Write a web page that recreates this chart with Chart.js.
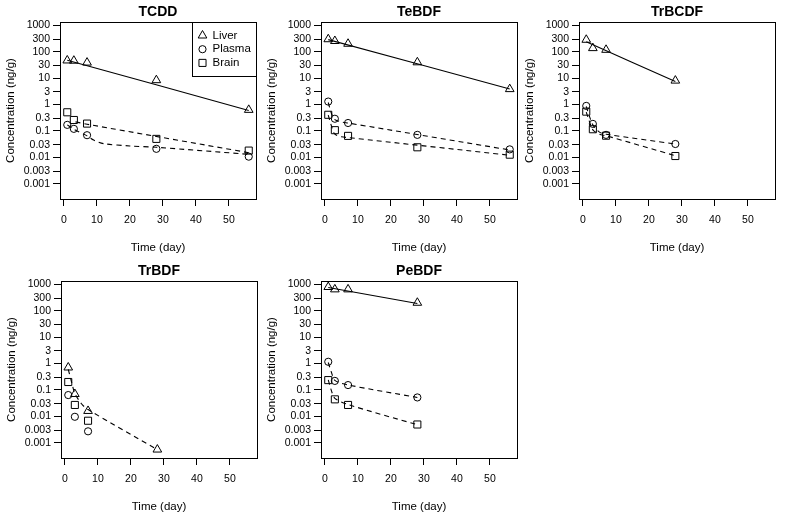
<!DOCTYPE html>
<html>
<head>
<meta charset="utf-8">
<script src="https://cdn.jsdelivr.net/npm/chart.js@4.4.1/dist/chart.umd.min.js"></script>
<style>
  body { margin: 0; background: #fff; width: 785px; height: 517px; position: relative; overflow: hidden; }
  canvas { position: absolute; }
</style>
</head>
<body>
<script>
// sampling days
var days5 = [1, 3, 7, 28, 56];
var days4 = [1, 3, 7, 28];
var days3 = [1, 3, 7];

// axis ticks
var xTicks = [0, 10, 20, 30, 40, 50];
var yTicks = [1000, 300, 100, 30, 10, 3, 1, 0.3, 0.1, 0.03, 0.01, 0.003, 0.001];
var yTickLabels = ['1000', '300', '100', '30', '10', '3', '1', '0.3', '0.1', '0.03', '0.01', '0.003', '0.001'];

// TCDD
var tcddLiver = [47, 46, 39, 8.4, 0.63];
var tcddPlasma = [0.17, 0.12, 0.069, 0.021, 0.0106];
var tcddBrain = [0.51, 0.26, 0.19, 0.05, 0.018];
var tcddLiverFit = [[1, 48], [56, 0.6]];
var tcddPlasmaFit = [[1, 0.17], [3, 0.115], [7, 0.065], [9, 0.045], [12, 0.033], [20, 0.027], [28, 0.024], [56, 0.013]];
var tcddBrainFit = [[3.5, 0.22], [7, 0.18], [56, 0.015]];

// TeBDF
var tebdfLiver = [300, 257, 202, 40, 3.85];
var tebdfPlasma = [1.3, 0.29, 0.2, 0.071, 0.02];
var tebdfBrain = [0.41, 0.107, 0.065, 0.024, 0.0126];
var tebdfLiverFit = [[1, 290], [56, 3.9]];
var tebdfPlasmaFit = [[1, 1.2], [2, 0.45], [3, 0.27], [5, 0.22], [7, 0.2], [56, 0.019]];
var tebdfBrainFit = [[1, 0.4], [2, 0.15], [3, 0.075], [5, 0.06], [7, 0.056], [56, 0.012]];

// TrBCDF
var trbcdfLiver = [286, 138, 119, 8.1];
var trbcdfPlasma = [0.89, 0.185, 0.071, 0.032];
var trbcdfBrain = [0.54, 0.116, 0.066, 0.0112];
var trbcdfLiverFit = [[1, 240], [28, 7.5]];
var trbcdfPlasmaFit = [[1, 0.85], [2, 0.35], [3, 0.17], [5, 0.09], [7, 0.075], [28, 0.032]];
var trbcdfBrainFit = [[1, 0.52], [2, 0.22], [3, 0.11], [5, 0.075], [7, 0.066], [28, 0.0115]];

// TrBDF
var trbdfLiver = [0.71, 0.07, 0.016, 0.00055];
var trbdfPlasma = [0.064, 0.0096, 0.0027];
var trbdfBrain = [0.2, 0.027, 0.0068];
var trbdfLiverFit = [[1, 0.6], [2, 0.2], [3, 0.075], [5, 0.03], [7, 0.018], [28, 0.00055]];

// PeBDF
var pebdfLiver = [800, 650, 650, 202];
var pebdfPlasma = [1.17, 0.22, 0.153, 0.052];
var pebdfBrain = [0.236, 0.044, 0.027, 0.0049];
var pebdfLiverFit = [[1, 760], [28, 190]];
var pebdfPlasmaFit = [[1, 1.1], [2, 0.45], [3, 0.23], [7, 0.155], [28, 0.052]];
var pebdfBrainFit = [[1, 0.24], [2, 0.09], [3, 0.048], [7, 0.028], [28, 0.0048]];

var FONT = "'Liberation Sans', Arial, Helvetica, sans-serif";

var panels = [
  { name: 'TCDD', left: 0, top: 0, days: days5, liver: tcddLiver, plasma: tcddPlasma, brain: tcddBrain,
    fits: [[tcddLiverFit, false], [tcddPlasmaFit, true], [tcddBrainFit, true]], legend: true },
  { name: 'TeBDF', left: 261, top: 0, days: days5, liver: tebdfLiver, plasma: tebdfPlasma, brain: tebdfBrain,
    fits: [[tebdfLiverFit, false], [tebdfPlasmaFit, true], [tebdfBrainFit, true]] },
  { name: 'TrBCDF', left: 519, top: 0, days: days4, liver: trbcdfLiver, plasma: trbcdfPlasma, brain: trbcdfBrain,
    fits: [[trbcdfLiverFit, false], [trbcdfPlasmaFit, true], [trbcdfBrainFit, true]] },
  { name: 'TrBDF', left: 1, top: 259, days: days4, liver: trbdfLiver, plasma: trbdfPlasma, brain: trbdfBrain,
    plasmaDays: days3, fits: [[trbdfLiverFit, true]] },
  { name: 'PeBDF', left: 261, top: 259, days: days4, liver: pebdfLiver, plasma: pebdfPlasma, brain: pebdfBrain,
    fits: [[pebdfLiverFit, false], [pebdfPlasmaFit, true], [pebdfBrainFit, true]] }
];

function toPoints(xs, ys) {
  var out = [];
  for (var i = 0; i < ys.length; i++) out.push({ x: xs[i], y: ys[i] });
  return out;
}

function pairs(arr) {
  return arr.map(function (p) { return { x: p[0], y: p[1] }; });
}

// box round the plot region + panel title
var framePlugin = {
  id: 'rFrame',
  afterDraw: function (chart, args, opts) {
    var a = chart.chartArea;
    var ctx = chart.ctx;
    ctx.save();
    ctx.strokeStyle = '#000';
    ctx.lineWidth = 1;
    ctx.strokeRect(Math.round(a.left) + 0.5, Math.round(a.top) + 0.5,
      Math.round(a.right - a.left), Math.round(a.bottom - a.top));
    ctx.fillStyle = '#000';
    ctx.font = 'bold 14px ' + FONT;
    ctx.textAlign = 'center';
    ctx.textBaseline = 'middle';
    ctx.fillText(opts.title, (a.left + a.right) / 2, 12);
    ctx.restore();
  }
};

var legendPlugin = {
  id: 'rLegend',
  afterDraw: function (chart, args, opts) {
    if (!opts.show) return;
    var a = chart.chartArea;
    var ctx = chart.ctx;
    var w = 64, h = 54;
    var lx = Math.round(a.right) - w + 0.5, ly = Math.round(a.top) + 0.5;
    var items = [['Liver', 'triangle', 5], ['Plasma', 'circle', 3.6], ['Brain', 'rect', 5]];
    ctx.save();
    ctx.strokeStyle = '#000';
    ctx.lineWidth = 1;
    ctx.fillStyle = '#fff';
    ctx.fillRect(lx, ly, w, h);
    ctx.strokeRect(lx, ly, w, h);
    ctx.font = '11.5px ' + FONT;
    ctx.textBaseline = 'middle';
    ctx.textAlign = 'left';
    items.forEach(function (it, i) {
      var y = ly + 13 + i * 13.7;
      ctx.fillStyle = 'rgba(0,0,0,0)';
      ctx.strokeStyle = '#000';
      Chart.helpers.drawPoint(ctx, { pointStyle: it[1], radius: it[2], borderWidth: 1, rotation: 0 }, lx + 10, y);
      ctx.fillStyle = '#000';
      ctx.fillText(it[0], lx + 20, y);
    });
    ctx.restore();
  }
};

panels.forEach(function (p) {
  var cv = document.createElement('canvas');
  cv.width = 262;
  cv.height = 258;
  cv.style.left = p.left + 'px';
  cv.style.top = p.top + 'px';
  document.body.appendChild(cv);

  var dataSets = [];
  p.fits.forEach(function (f) {
    dataSets.push({
      data: pairs(f[0]),
      showLine: true,
      borderColor: '#000',
      borderWidth: 1.1,
      borderDash: f[1] ? [5, 4] : [],
      pointRadius: 0,
      fill: false,
      tension: 0.3
    });
  });
  var marks = [
    [toPoints(p.days, p.liver), 'triangle', 5],
    [toPoints(p.plasmaDays || p.days, p.plasma), 'circle', 3.6],
    [toPoints(p.plasmaDays || p.days, p.brain), 'rect', 5]
  ];
  marks.forEach(function (m) {
    dataSets.push({
      data: m[0],
      showLine: false,
      pointStyle: m[1],
      pointRadius: m[2],
      pointBorderWidth: 1,
      pointBorderColor: '#000',
      pointBackgroundColor: 'rgba(0,0,0,0)'
    });
  });

  new Chart(cv, {
    type: 'scatter',
    data: { datasets: dataSets },
    options: {
      responsive: false,
      animation: false,
      devicePixelRatio: 1,
      layout: { padding: { top: 22, right: 5, bottom: 0, left: 0 } },
      plugins: {
        legend: { display: false },
        tooltip: { enabled: false },
        rFrame: { title: p.name },
        rLegend: { show: !!p.legend }
      },
      scales: {
        x: {
          type: 'linear',
          min: -1.2,
          max: 58.2,
          afterBuildTicks: function (s) { s.ticks = xTicks.map(function (v) { return { value: v }; }); },
          afterFit: function (s) { s.height = 59; },
          grid: { drawOnChartArea: false, drawTicks: true, tickLength: 7, color: '#000' },
          border: { display: false },
          ticks: { color: '#000', font: { family: FONT, size: 10.5 }, padding: 8, maxRotation: 0, autoSkip: false },
          title: { display: true, text: 'Time (day)', color: '#000', font: { family: FONT, size: 11.5 }, padding: { top: 0, bottom: 3 } }
        },
        y: {
          type: 'logarithmic',
          min: Math.pow(10, -3.58),
          max: Math.pow(10, 3.13),
          afterBuildTicks: function (s) { s.ticks = yTicks.map(function (v) { return { value: v }; }); },
          afterFit: function (s) { s.width = 60; },
          grid: { drawOnChartArea: false, drawTicks: true, tickLength: 7, color: '#000' },
          border: { display: false },
          ticks: {
            color: '#000',
            font: { family: FONT, size: 10.5 },
            padding: 3,
            autoSkip: false,
            callback: function (v) {
              var i = yTicks.indexOf(v);
              return i >= 0 ? yTickLabels[i] : '';
            }
          },
          title: { display: true, text: 'Concentration (ng/g)', color: '#000', font: { family: FONT, size: 11.5 }, padding: { top: 4, bottom: 0 } }
        }
      }
    },
    plugins: [framePlugin, legendPlugin]
  });
});
</script>
</body>
</html>
